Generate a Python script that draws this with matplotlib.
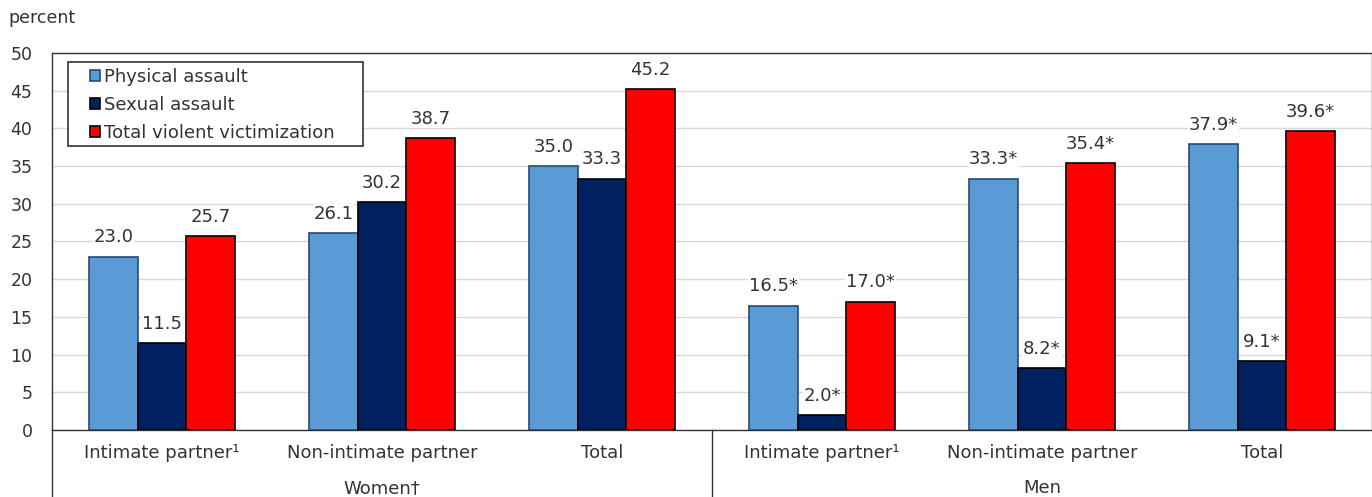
# Grouped bar chart: share of violent victimization by relationship, women and men

import matplotlib.pyplot as plt
from matplotlib.patches import Rectangle
import numpy as np

categories = ['Intimate partner\u00b9', 'Non-intimate partner', 'Total',
              'Intimate partner\u00b9', 'Non-intimate partner', 'Total']
groups = ['Women\u2020', 'Men']
physical = [23.0, 26.1, 35.0, 16.5, 33.3, 37.9]
sexual = [11.5, 30.2, 33.3, 2.0, 8.2, 9.1]
total = [25.7, 38.7, 45.2, 17.0, 35.4, 39.6]
# significance markers for the men's values
marks = ['', '', '', '*', '*', '*']
series_names = ['Physical assault', 'Sexual assault', 'Total violent victimization']

colors = ['#5B9BD5', '#002060', '#FF0000']
edges = ['#244A78', '#000000', '#000000']
text_color = '#333333'

fig = plt.figure(figsize=(13.72, 4.97), dpi=100)
ax = fig.add_axes([0.0379, 0.1348, 0.9621, 0.7586])

x = np.arange(len(categories))
width = 0.22
series = [physical, sexual, total]

for i, (vals, name) in enumerate(zip(series, series_names)):
    pos = x + (i - 1) * width
    ax.bar(pos, vals, width, color=colors[i], edgecolor=edges[i],
           linewidth=1.2, label=name, zorder=3)
    for px, v, m in zip(pos, vals, marks):
        # white box hides the gridline behind the label, bars stay on top
        ax.annotate(f'{v:.1f}{m}', (px, v), xytext=(0, 7.5),
                    textcoords='offset points', ha='center', va='bottom',
                    fontsize=13, color=text_color, zorder=2.5,
                    bbox=dict(facecolor='white', edgecolor='none', pad=0.5))

ax.set_xlim(-0.5, 5.5)
ax.set_ylim(0, 50)
ax.set_yticks(range(0, 51, 5))
ax.tick_params(axis='y', length=0, labelsize=12.5, labelcolor=text_color, pad=14)
ax.tick_params(axis='x', length=0, labelbottom=False)
ax.grid(axis='y', color='#D9D9D9', linewidth=1, zorder=0)

for side in ['top', 'left', 'bottom', 'right']:
    ax.spines[side].set_color('#333333')
    ax.spines[side].set_linewidth(1)

# category and group labels under the axis
for xi, cat in zip(x, categories):
    ax.text(xi, -0.062, cat, transform=ax.get_xaxis_transform(),
            ha='center', va='center', fontsize=13, color=text_color)
for gi, g in enumerate(groups):
    ax.text(1 + gi * 3, -0.155, g, transform=ax.get_xaxis_transform(),
            ha='center', va='center', fontsize=13, color=text_color)

# separators extending below the axis
for xs in [-0.5, 2.5]:
    ax.plot([xs, xs], [0, -0.2], transform=ax.get_xaxis_transform(),
            color='#333333', linewidth=1, clip_on=False)

fig.text(0.006, 0.964, 'percent', fontsize=12.5, color=text_color,
         ha='left', va='center')

# legend entries without a frame, boxed by a separate rectangle
leg = ax.legend(loc='upper left', bbox_to_anchor=(0.0285, 0.961),
                frameon=False, fontsize=13,
                handlelength=0.55, handleheight=0.55, handletextpad=0.25,
                borderpad=0, labelspacing=0.55, borderaxespad=0)
for t in leg.get_texts():
    t.set_color(text_color)
ax.add_patch(Rectangle((0.0121, 0.753), 0.2235, 0.223, transform=ax.transAxes,
                       facecolor='white', edgecolor='#333333', linewidth=1.2,
                       zorder=4.5))
leg.set_zorder(5)

fig.savefig('out.png', dpi=100)
